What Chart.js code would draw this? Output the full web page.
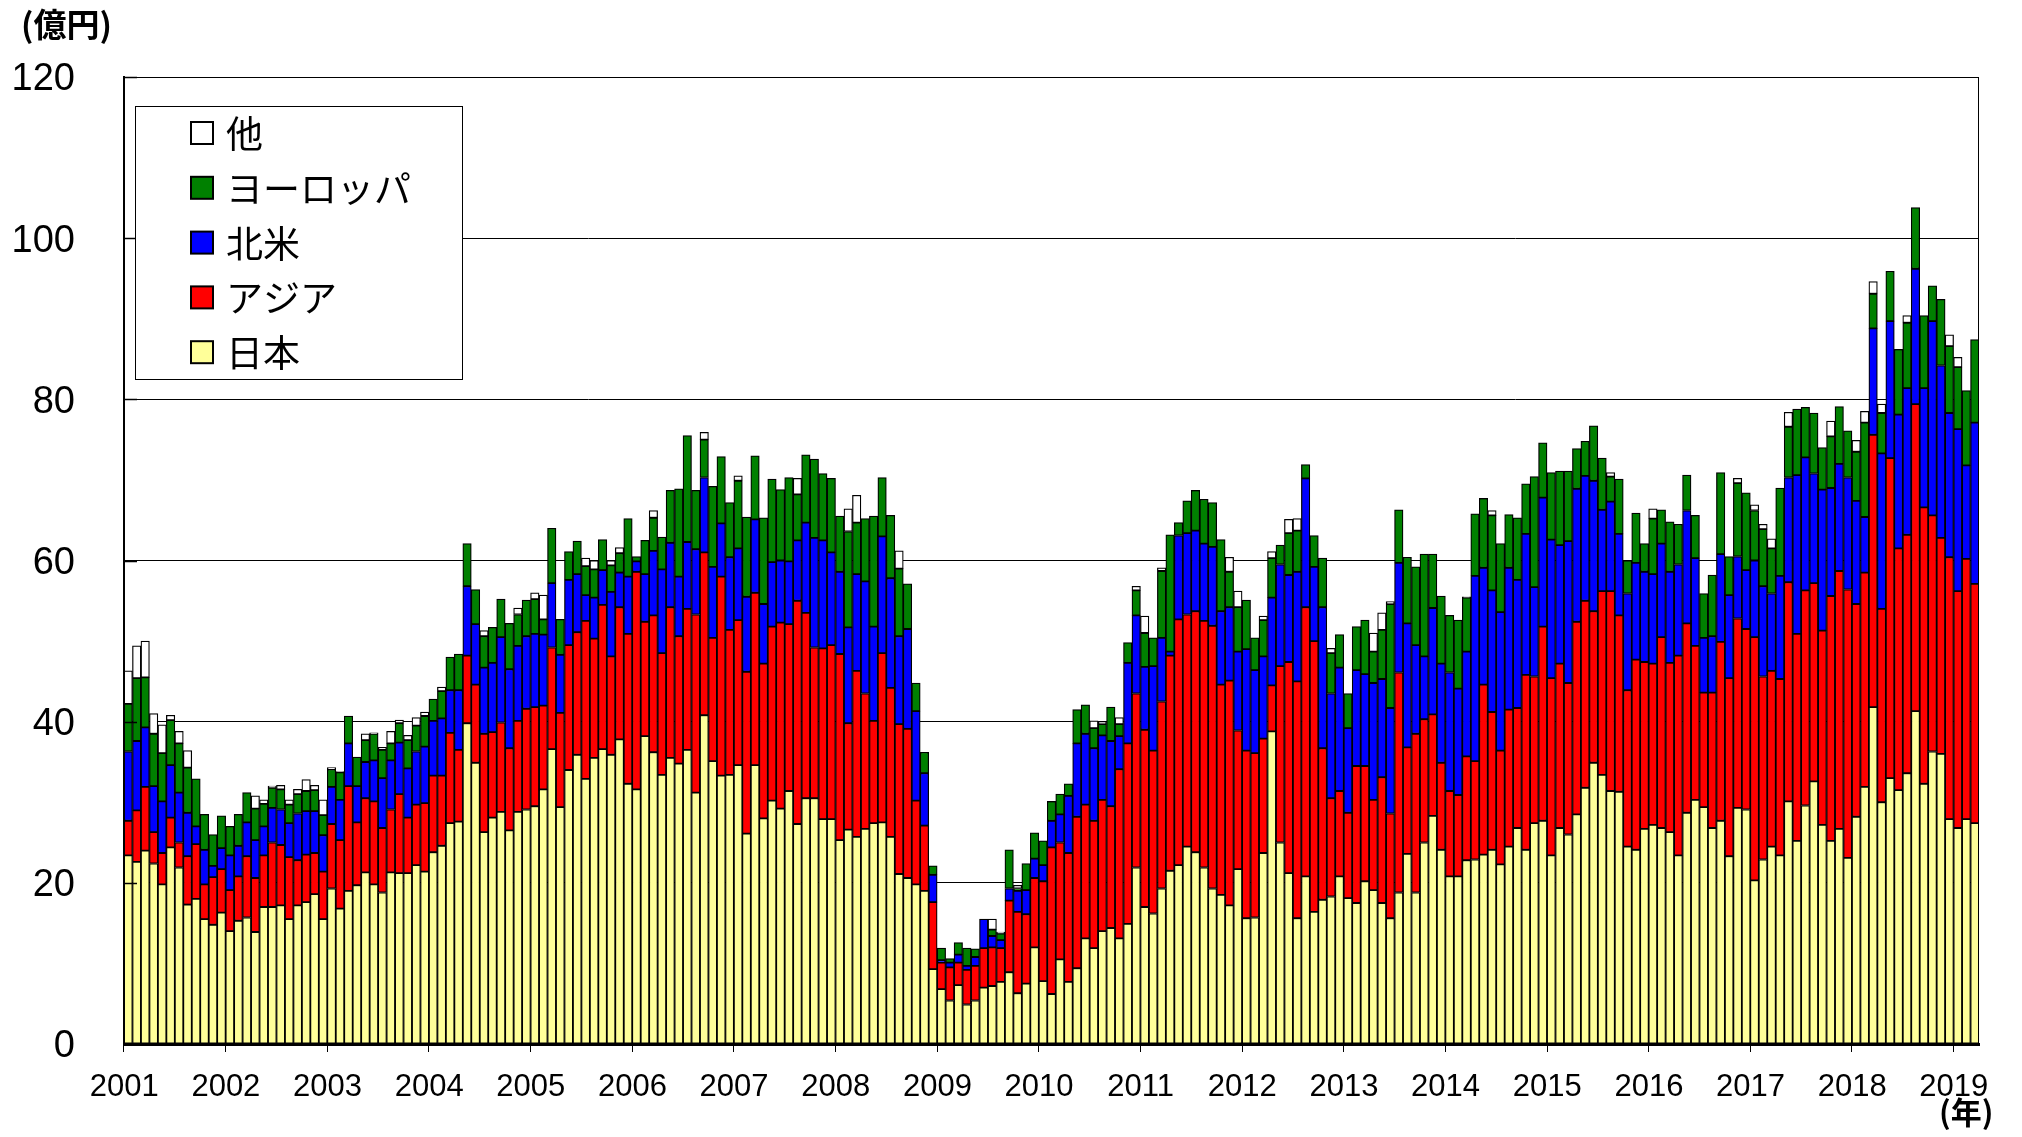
<!DOCTYPE html>
<html>
<head>
<meta charset="utf-8">
<script src="https://cdn.jsdelivr.net/npm/chart.js@4.4.1/dist/chart.umd.min.js"></script>
<style>
  html, body { margin: 0; padding: 0; background: #fff; }
  #wrap { width: 2022px; height: 1137px; }
</style>
</head>
<body>
<div id="wrap"><canvas id="chart" width="2022" height="1137"></canvas></div>
<script>
// monthly values, Jan 2001 - Mar 2019 (億円)
const firstYear = 2001
const seriesNames = ['日本', 'アジア', '北米', 'ヨーロッパ', '他']
const seriesColors = ['#FFFF99', '#FF0000', '#0000FF', '#008000', '#FFFFFF']
const yTicks = [0, 20, 40, 60, 80, 100, 120]

const japan = [
  23.4, 22.6, 24.0, 22.4, 19.8, 24.4, 21.9, 17.3, 18.0, 15.5, 14.8, 16.3,
  14.0, 15.3, 15.7, 13.9, 17.0, 17.0, 17.2, 15.5, 17.2, 17.6, 18.6, 15.5,
  19.3, 16.8, 19.0, 19.7, 21.3, 19.8, 18.8, 21.3, 21.2, 21.2, 22.2, 21.4,
  23.8, 24.6, 27.4, 27.6, 39.8, 34.9, 26.3, 28.1, 28.8, 26.5, 28.8, 29.1,
  29.5, 31.6, 36.6, 29.4, 34.0, 35.9, 32.9, 35.5, 36.6, 35.9, 37.8, 32.3,
  31.6, 38.2, 36.2, 33.4, 35.5, 34.8, 36.5, 31.2, 40.8, 35.1, 33.3, 33.4,
  34.6, 26.1, 34.6, 28.0, 30.2, 29.2, 31.4, 27.3, 30.5, 30.5, 27.9, 27.9,
  25.3, 26.6, 25.7, 26.7, 27.4, 27.5, 25.7, 21.1, 20.6, 19.8, 19.0, 9.3,
  6.8, 5.4, 7.3, 4.9, 5.4, 7.0, 7.2, 7.7, 8.9, 6.3, 7.5, 12.0,
  7.8, 6.2, 10.5, 7.7, 9.4, 13.1, 11.9, 14.0, 14.4, 13.1, 14.9, 21.9,
  17.0, 16.2, 19.3, 21.5, 22.2, 24.5, 23.8, 21.9, 19.3, 18.5, 17.2, 21.7,
  15.6, 15.7, 23.7, 38.8, 25.0, 21.2, 15.6, 20.8, 16.4, 17.9, 18.3, 20.8,
  18.1, 17.5, 20.2, 19.1, 17.5, 15.6, 18.8, 23.6, 18.8, 25.0, 28.3, 24.1,
  20.8, 20.8, 22.8, 22.9, 23.5, 24.1, 22.3, 24.5, 26.8, 24.1, 27.4, 27.7,
  23.4, 26.8, 26.0, 28.5, 31.8, 34.9, 33.4, 31.4, 31.3, 24.5, 24.1, 26.7,
  27.2, 26.8, 26.3, 23.4, 28.7, 30.3, 29.4, 26.8, 27.7, 23.3, 29.3, 29.1,
  20.3, 22.9, 24.5, 23.4, 30.1, 25.2, 29.6, 32.6, 27.2, 25.2, 26.7, 23.1,
  28.2, 31.9, 41.8, 30.0, 33.0, 31.5, 33.6, 41.3, 32.3, 36.3, 36.0, 27.9,
  26.8, 27.9, 27.4
]
const asia = [
  4.3, 6.4, 7.9, 3.9, 3.9, 3.7, 3.1, 6.0, 6.8, 4.3, 5.9, 5.4,
  5.1, 5.5, 7.6, 6.7, 6.4, 8.0, 7.5, 7.7, 5.6, 5.9, 5.1, 5.9,
  8.0, 8.5, 13.0, 7.8, 9.2, 10.3, 8.0, 7.8, 9.8, 6.9, 7.5, 8.5,
  9.5, 8.7, 11.2, 8.9, 8.4, 9.7, 12.2, 10.6, 11.1, 10.2, 11.3, 12.5,
  12.3, 10.4, 12.6, 11.7, 15.5, 15.2, 19.6, 14.8, 17.9, 12.2, 16.4, 18.6,
  27.0, 14.2, 17.0, 15.1, 18.7, 15.8, 17.5, 22.1, 20.2, 15.3, 24.7, 18.0,
  18.0, 20.1, 21.4, 19.2, 21.6, 23.1, 20.7, 27.7, 23.0, 18.7, 21.2, 21.6,
  23.1, 13.2, 20.6, 16.8, 12.7, 21.0, 18.5, 18.6, 18.5, 10.4, 8.1, 8.3,
  3.3, 4.1, 2.8, 4.3, 4.3, 4.9, 4.8, 4.2, 8.9, 10.1, 8.6, 8.6,
  12.4, 18.2, 14.5, 16.0, 18.8, 16.6, 15.8, 16.3, 15.1, 21.0, 22.4, 21.6,
  22.0, 20.2, 23.2, 26.7, 30.5, 28.8, 29.9, 30.6, 32.6, 26.1, 27.9, 17.2,
  20.8, 20.4, 14.2, 5.7, 21.9, 26.2, 29.4, 33.4, 33.6, 18.8, 12.2, 10.6,
  10.6, 17.0, 14.3, 11.2, 15.6, 13.0, 27.3, 13.2, 19.7, 15.3, 12.6, 10.8,
  10.6, 10.1, 12.9, 12.2, 21.1, 17.1, 14.1, 17.0, 14.9, 21.7, 18.2, 24.1,
  22.0, 20.4, 18.8, 23.9, 23.2, 18.8, 22.8, 24.8, 21.9, 19.4, 23.6, 20.7,
  20.0, 23.7, 21.0, 24.8, 23.5, 19.1, 14.2, 16.8, 22.2, 22.1, 23.5, 22.4,
  30.2, 22.7, 21.8, 21.9, 27.2, 25.7, 26.7, 24.6, 24.1, 30.4, 32.0, 33.3,
  26.4, 26.6, 33.8, 24.0, 39.7, 30.0, 29.6, 38.1, 34.3, 29.3, 26.8, 32.5,
  29.4, 32.3, 29.7
]
const northAmerica = [
  8.6, 8.6, 7.4, 5.7, 6.4, 6.5, 6.2, 5.4, 2.2, 4.3, 1.4, 2.6,
  4.3, 3.8, 4.2, 4.7, 3.6, 4.3, 4.4, 4.2, 5.8, 5.4, 5.2, 4.5,
  4.6, 5.0, 5.3, 4.5, 4.5, 5.1, 6.2, 6.1, 6.4, 6.1, 6.6, 7.0,
  6.8, 7.1, 5.3, 7.4, 8.6, 7.5, 8.2, 8.6, 10.6, 9.8, 9.3, 9.0,
  9.1, 8.8, 8.0, 7.2, 8.1, 7.2, 3.2, 5.1, 4.3, 8.0, 4.3, 7.1,
  1.3, 5.9, 8.0, 10.4, 8.0, 7.4, 8.3, 8.1, 9.3, 8.8, 6.6, 9.0,
  8.9, 9.3, 9.1, 7.4, 8.0, 7.7, 7.8, 7.5, 11.2, 13.6, 13.4, 11.5,
  10.2, 11.9, 12.0, 13.9, 11.7, 14.5, 13.6, 10.9, 12.4, 11.1, 6.5, 3.4,
  0.3, 0.6, 1.0, 0.5, 1.1, 3.6, 1.4, 1.0, 1.5, 2.6, 3.0, 2.4,
  2.0, 3.3, 3.5, 7.1, 9.1, 8.8, 9.0, 8.0, 8.1, 4.1, 10.0, 9.7,
  7.8, 10.5, 7.9, 0.5, 10.4, 10.1, 10.0, 9.6, 9.8, 9.1, 9.1, 9.8,
  12.6, 10.3, 10.2, 10.9, 12.6, 10.8, 13.6, 16.0, 9.2, 17.5, 13.0, 15.3,
  10.5, 11.9, 11.4, 14.5, 12.2, 13.1, 13.6, 15.4, 11.0, 7.8, 13.2, 12.3,
  14.7, 13.2, 13.0, 23.0, 14.5, 15.1, 17.2, 17.6, 15.9, 17.5, 11.1, 16.0,
  17.2, 14.7, 17.6, 16.5, 15.5, 16.2, 10.1, 11.1, 10.1, 12.0, 12.0, 11.2,
  11.1, 11.6, 11.3, 11.3, 14.0, 10.9, 6.8, 7.0, 10.9, 10.3, 7.7, 7.3,
  9.5, 11.2, 9.6, 12.8, 13.0, 19.7, 16.5, 13.6, 17.5, 13.4, 13.3, 13.9,
  12.8, 6.9, 13.2, 19.3, 17.0, 16.6, 18.2, 16.8, 14.8, 24.1, 21.4, 17.9,
  20.1, 11.6, 20.0
]
const europe = [
  5.9, 7.8, 6.2, 6.5, 6.0, 5.6, 6.1, 5.6, 5.9, 4.4, 3.9, 4.0,
  3.6, 3.9, 3.7, 3.9, 2.8, 2.5, 2.5, 2.3, 2.4, 2.5, 2.6, 2.5,
  2.2, 3.4, 3.4, 3.6, 2.7, 3.3, 3.5, 2.1, 2.4, 3.5, 3.2, 3.8,
  2.7, 3.4, 4.1, 4.5, 5.3, 4.3, 3.9, 4.4, 4.7, 5.7, 3.9, 4.5,
  4.3, 1.9, 6.8, 4.4, 3.5, 4.1, 3.6, 3.5, 3.8, 3.3, 2.4, 7.2,
  0.6, 4.2, 4.1, 4.0, 6.5, 10.9, 13.2, 7.3, 4.7, 10.0, 8.3, 6.8,
  8.4, 9.9, 7.9, 10.7, 10.3, 8.8, 10.4, 5.7, 8.4, 9.8, 8.3, 9.2,
  6.9, 11.9, 6.4, 7.8, 13.7, 7.3, 7.8, 8.4, 5.6, 3.5, 2.6, 1.1,
  1.5, 0.5, 1.5, 2.2, 1.0, 0, 0.8, 0.8, 4.8, 0.3, 3.3, 3.2,
  3.0, 2.4, 2.5, 1.5, 4.2, 3.6, 2.5, 1.4, 4.2, 1.5, 2.5, 3.1,
  4.2, 3.5, 8.3, 14.5, 1.6, 4.0, 5.0, 5.5, 5.5, 8.9, 4.4, 5.5,
  6.1, 4.0, 4.5, 4.9, 2.4, 5.2, 5.1, 1.7, 3.9, 6.1, 5.0, 4.1,
  4.3, 5.4, 6.7, 3.9, 6.1, 12.9, 6.6, 8.2, 9.7, 12.7, 6.7, 8.4,
  7.1, 8.5, 6.7, 7.7, 8.6, 9.3, 8.5, 6.6, 7.7, 6.2, 13.7, 6.8,
  8.3, 9.2, 8.7, 5.0, 4.3, 6.8, 6.4, 3.1, 6.8, 4.1, 6.2, 3.5,
  6.9, 4.2, 6.2, 5.0, 4.4, 5.3, 5.5, 7.6, 10.1, 4.8, 9.1, 9.6,
  6.2, 7.1, 5.6, 10.9, 6.3, 8.2, 6.2, 7.5, 5.2, 6.4, 7.1, 5.8,
  6.1, 11.7, 4.3, 5.0, 6.2, 8.1, 8.1, 7.6, 9.0, 4.4, 8.2, 8.3,
  7.7, 9.3, 10.3
]
const other = [
  4.1, 4.0, 4.5, 2.5, 3.5, 0.6, 1.5, 2.1, 0, 0, 0, 0,
  0, 0, 0, 1.6, 0.5, 0.2, 0.5, 0.6, 0.6, 1.4, 0.6, 1.9,
  0.2, 0.1, 0, 0, 0.8, 0.1, 0.3, 1.5, 0.4, 0.6, 1.0, 0.5,
  0, 0.5, 0, 0, 0, 0, 0.7, 0, 0, 0, 0.8, 0,
  0.8, 3.0, 0, 0, 0, 0, 1.0, 1.1, 0, 0.6, 0.7, 0,
  0, 0, 0.9, 0, 0, 0, 0, 0, 0.9, 0, 0, 0,
  0.6, 0, 0, 0, 0, 0, 0, 2.0, 0, 0, 0, 0,
  0, 2.8, 3.4, 0, 0, 0, 0, 2.2, 0, 0, 0, 0,
  0, 0, 0, 0, 0, 0, 1.3, 0.2, 0, 0.4, 0, 0,
  0, 0, 0, 0, 0, 0, 0.9, 0.3, 0, 0.8, 0, 0.5,
  2.1, 0, 0.4, 0, 0, 0, 0, 0, 0, 0, 1.8, 2.0,
  0, 0, 0.5, 0.8, 0, 1.7, 1.5, 0, 0, 0, 0.6, 0,
  0, 0, 0, 2.3, 2.1, 0.3, 0, 0, 0, 0, 0, 0,
  0, 0, 0.1, 0, 0, 0.6, 0, 0, 0, 0, 0, 0,
  0, 0, 0, 0, 0, 0, 0, 0.5, 0, 0, 0, 0,
  1.2, 0, 0, 0, 0, 0, 0, 0, 0, 0, 0.6, 0,
  0.7, 0.6, 1.2, 0, 1.8, 0, 0, 0, 0, 1.9, 0, 0,
  1.4, 1.4, 1.5, 1.1, 0, 0, 0.9, 0, 0, 0, 0, 1.4,
  1.2, 0, 0
]

// month labels "2001/1" ...
const months = japan.map((v, i) => (firstYear + Math.floor(i / 12)) + '/' + (i % 12 + 1))
const seriesData = [japan, asia, northAmerica, europe, other]

const datasets = seriesData.map((d, k) => ({
  label: seriesNames[k],
  data: d,
  backgroundColor: seriesColors[k],
  borderColor: '#000',
  borderWidth: 1.25,
  borderSkipped: false,
  barPercentage: 1,
  categoryPercentage: 1
}))

// frame round the plot, inner y ticks, unit labels and the boxed legend
const decor = {
  id: 'decor',
  afterDraw(chart) {
    const c = chart.ctx
    const a = chart.chartArea
    const ys = chart.scales.y
    c.save()
    c.strokeStyle = '#000'
    c.lineWidth = 1
    c.strokeRect(a.left + 0.5, a.top + 0.5, a.right - a.left - 1, a.bottom - a.top)

    c.lineWidth = 1.5
    yTicks.forEach(v => {
      const py = Math.round(ys.getPixelForValue(v)) + 0.5
      c.beginPath()
      c.moveTo(a.left, py)
      c.lineTo(a.left + 13, py)
      c.stroke()
    })

    c.fillStyle = '#000'
    c.font = 'bold 33px "Noto Sans CJK JP"'
    c.textBaseline = 'middle'
    c.textAlign = 'left'
    c.fillText('(億円)', 21, 24)
    c.font = 'bold 31px "Noto Sans CJK JP"'
    c.fillText('(年)', 1939, 1112)

    // legend
    const lx = a.left + 11, ly = a.top + 29
    c.lineWidth = 1
    c.fillStyle = '#fff'
    c.fillRect(lx, ly, 327, 273)
    c.strokeRect(lx + 0.5, ly + 0.5, 327, 273)
    c.font = '37px "Noto Sans CJK JP"'
    for (let k = 0; k < seriesNames.length; k++) {
      const i = seriesNames.length - 1 - k
      const cy = ly + 27 + k * 54.8
      c.fillStyle = seriesColors[i]
      c.fillRect(lx + 56, cy - 11, 22, 22)
      c.lineWidth = 2
      c.strokeRect(lx + 56, cy - 11, 22, 22)
      c.fillStyle = '#000'
      c.fillText(seriesNames[i], lx + 91, cy + 1)
    }
    c.restore()
  }
}

new Chart(document.getElementById('chart'), {
  type: 'bar',
  data: { labels: months, datasets: datasets },
  options: {
    responsive: false,
    animation: false,
    devicePixelRatio: 1,
    layout: { padding: { top: 77, right: 43, left: 0, bottom: 0 } },
    plugins: { legend: { display: false }, tooltip: { enabled: false } },
    scales: {
      x: {
        stacked: true,
        offset: true,
        afterFit: s => { s.height = 93 },
        grid: {
          offset: true,
          drawOnChartArea: false,
          tickLength: 8,
          color: ctx => (ctx.index % 12 === 0 ? '#000' : 'rgba(0,0,0,0)')
        },
        border: { display: true, color: '#000', width: 3 },
        ticks: {
          autoSkip: false,
          maxRotation: 0,
          padding: 17,
          labelOffset: -4,
          color: '#000',
          font: { family: '"Liberation Sans", Arial', size: 31 },
          callback: (v, i) => (i % 12 === 0 ? String(firstYear + i / 12) : '')
        }
      },
      y: {
        stacked: true,
        min: yTicks[0],
        max: yTicks[yTicks.length - 1],
        afterFit: s => { s.width = 124 },
        afterBuildTicks: s => { s.ticks = yTicks.map(v => ({ value: v })) },
        grid: { color: '#000', lineWidth: 1, drawTicks: false },
        border: { color: '#000', width: 2 },
        ticks: {
          padding: 49,
          labelOffset: 3,
          color: '#000',
          font: { family: '"Liberation Sans", Arial', size: 38 }
        }
      }
    }
  },
  plugins: [decor]
})
</script>
</body>
</html>
